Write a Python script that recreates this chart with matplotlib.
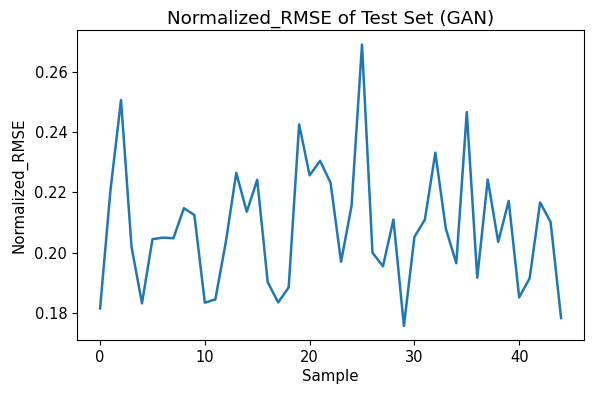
import matplotlib
matplotlib.use('Agg')
import matplotlib.pyplot as plt

sample = list(range(45))
nrmse = [0.1815, 0.221, 0.2507, 0.202, 0.1832, 0.2045, 0.205, 0.2048, 0.2148, 0.2125,
         0.1834, 0.1845, 0.2035, 0.2265, 0.2136, 0.2242, 0.1902, 0.1835, 0.1885, 0.2426,
         0.2257, 0.2305, 0.2232, 0.197, 0.2155, 0.2691, 0.2, 0.1955, 0.211, 0.1757,
         0.2052, 0.211, 0.2332, 0.208, 0.1965, 0.2467, 0.1917, 0.2243, 0.2036, 0.2172,
         0.1852, 0.1915, 0.2167, 0.2102, 0.1783]

fig = plt.figure(figsize=(5.98, 3.93), dpi=100)
ax = fig.add_axes([0.1288, 0.1349, 0.848, 0.7875])
ax.plot(sample, nrmse, lw=1.8)
ax.set_title('Normalized_RMSE of Test Set (GAN)', fontsize=13.2, pad=5)
ax.set_xlabel('Sample', fontsize=10.8, labelpad=3)
ax.set_ylabel('Normalized_RMSE', fontsize=10.8, labelpad=5)
ax.set_yticks([0.18, 0.20, 0.22, 0.24, 0.26])
ax.tick_params(labelsize=10.5)
fig.savefig('out.png', dpi=100)
